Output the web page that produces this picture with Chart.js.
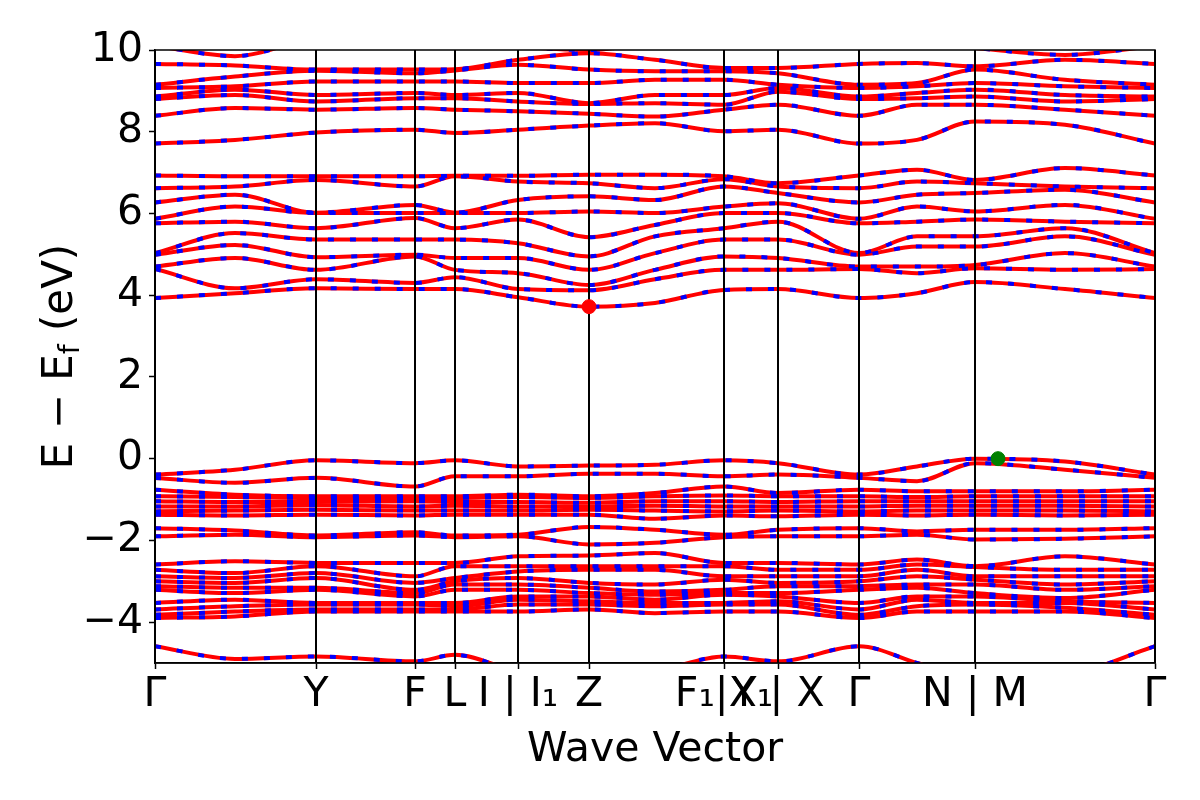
<!DOCTYPE html>
<html>
<head>
<meta charset="utf-8">
<script src="https://cdn.jsdelivr.net/npm/chart.js@4.4.0/dist/chart.umd.min.js"></script>
<style>
  html, body { margin: 0; padding: 0; background: #fff; }
</style>
</head>
<body>
<canvas id="bands" width="1200" height="800"></canvas>
<script>
// k-path sample positions (path length units, 0..1000)
var kPts = [0, 80, 161, 260, 300, 363, 434, 500, 569, 623, 704, 762, 820, 910, 1000];
var tickPos = [0, 161, 260, 300, 363, 434, 569, 623, 704, 820, 1000];
var tickLabels = ['Γ', 'Y', 'F', 'L', 'I | I₁', 'Z', 'F₁|X₁', 'Y | X', 'Γ', 'N | M', 'Γ'];
var yTicks = [-4, -2, 0, 2, 4, 6, 8, 10];

// band energies (eV) at kPts
var condLow = [
  [3.93, 4.05, 4.17, 4.15, 4.15, 3.95, 3.72, 3.81, 4.13, 4.15, 3.93, 4.05, 4.32, 4.15, 3.93],
  [4.64, 4.17, 4.39, 4.30, 4.44, 4.15, 4.12, 4.39, 4.62, 4.62, 4.64, 4.54, 4.66, 4.62, 4.64],
  [4.70, 4.91, 4.62, 4.95, 4.62, 4.54, 4.25, 4.62, 4.95, 4.91, 4.70, 4.70, 4.74, 5.03, 4.70],
  [4.99, 5.23, 4.93, 4.99, 4.91, 4.91, 4.62, 5.03, 5.36, 5.36, 4.99, 5.19, 5.19, 5.44, 4.99],
  [5.03, 5.52, 5.36, 5.36, 5.36, 5.27, 4.95, 5.44, 5.64, 5.80, 5.03, 5.44, 5.44, 5.64, 5.03],
  [5.76, 5.80, 5.64, 5.89, 5.64, 5.85, 5.42, 5.72, 6.01, 6.01, 5.76, 5.80, 5.85, 5.80, 5.76],
  [5.87, 6.17, 6.01, 6.01, 6.01, 6.01, 6.05, 6.01, 6.17, 6.25, 5.87, 6.17, 6.05, 6.21, 5.87],
  [6.27, 6.46, 6.02, 6.21, 6.02, 6.33, 6.42, 6.33, 6.66, 6.50, 6.27, 6.46, 6.50, 6.58, 6.27],
  [6.62, 6.66, 6.82, 6.66, 6.91, 6.78, 6.74, 6.62, 6.84, 6.66, 6.62, 6.78, 6.74, 6.66, 6.62],
  [6.93, 6.91, 6.91, 6.91, 6.92, 6.92, 6.95, 6.95, 6.91, 6.74, 6.93, 7.07, 6.82, 7.11, 6.93]
];
var condHigh = [
  [7.71, 7.80, 7.98, 8.05, 7.97, 8.05, 8.15, 8.21, 8.01, 8.05, 7.71, 7.80, 8.25, 8.17, 7.71],
  [8.39, 8.58, 8.54, 8.58, 8.54, 8.50, 8.44, 8.37, 8.54, 8.66, 8.39, 8.66, 8.66, 8.54, 8.39],
  [8.80, 8.90, 8.74, 8.82, 8.82, 8.74, 8.68, 8.70, 8.66, 8.98, 8.80, 8.82, 8.86, 8.74, 8.80],
  [8.86, 9.03, 8.90, 8.95, 8.90, 8.95, 8.70, 8.90, 8.90, 9.07, 8.86, 8.95, 9.03, 8.90, 8.86],
  [9.07, 9.11, 9.23, 9.23, 9.23, 9.19, 9.19, 9.27, 9.27, 9.15, 9.07, 9.11, 9.19, 9.11, 9.07],
  [9.15, 9.35, 9.49, 9.43, 9.50, 9.64, 9.52, 9.48, 9.48, 9.43, 9.15, 9.19, 9.52, 9.27, 9.15],
  [9.66, 9.62, 9.52, 9.52, 9.53, 9.76, 9.92, 9.76, 9.56, 9.56, 9.66, 9.68, 9.60, 9.76, 9.66],
  [10.10, 9.85, 10.30, 10.40, 10.35, 10.10, 10.00, 10.20, 10.40, 10.40, 10.10, 10.20, 10.05, 9.88, 10.10]
];
var valTop = [
  [-0.39, -0.27, -0.04, -0.11, -0.04, -0.19, -0.17, -0.15, -0.04, -0.11, -0.39, -0.19, 0.00, -0.07, -0.39],
  [-0.47, -0.59, -0.47, -0.68, -0.43, -0.43, -0.37, -0.37, -0.43, -0.39, -0.47, -0.55, -0.11, -0.27, -0.47],
  [-0.76, -0.88, -0.92, -0.92, -0.92, -0.88, -0.92, -0.84, -0.68, -0.84, -0.76, -0.80, -0.80, -0.80, -0.76],
  [-0.92, -0.94, -0.96, -0.96, -0.96, -0.94, -0.96, -0.92, -0.90, -0.92, -0.92, -0.94, -0.92, -0.92, -0.92],
  [-1.04, -1.06, -1.06, -1.04, -1.06, -1.06, -1.08, -1.04, -1.04, -1.06, -1.04, -1.04, -1.04, -1.04, -1.04],
  [-1.17, -1.17, -1.14, -1.17, -1.15, -1.17, -1.17, -1.15, -1.17, -1.17, -1.17, -1.15, -1.15, -1.15, -1.17],
  [-1.29, -1.27, -1.25, -1.27, -1.27, -1.27, -1.25, -1.27, -1.29, -1.27, -1.29, -1.27, -1.27, -1.27, -1.29],
  [-1.37, -1.39, -1.37, -1.39, -1.37, -1.37, -1.37, -1.47, -1.39, -1.41, -1.37, -1.39, -1.37, -1.39, -1.37]
];
var valMid = [
  [-1.70, -1.76, -1.88, -1.80, -1.88, -1.86, -1.67, -1.74, -1.86, -1.74, -1.70, -1.78, -1.74, -1.74, -1.70],
  [-1.90, -1.86, -1.92, -1.88, -1.92, -1.90, -2.10, -2.06, -1.92, -1.90, -1.90, -1.86, -1.98, -1.96, -1.90]
];
var valLow = [
  [-2.59, -2.51, -2.55, -2.55, -2.55, -2.39, -2.37, -2.31, -2.55, -2.55, -2.59, -2.47, -2.63, -2.39, -2.59],
  [-2.72, -2.80, -2.63, -2.88, -2.63, -2.63, -2.63, -2.63, -2.63, -2.72, -2.72, -2.59, -2.65, -2.72, -2.72],
  [-2.88, -2.92, -2.80, -3.04, -2.92, -2.76, -2.72, -2.72, -2.88, -2.88, -2.88, -2.72, -2.88, -2.88, -2.88],
  [-3.00, -3.04, -2.92, -3.21, -3.00, -2.92, -3.04, -3.08, -2.96, -3.04, -3.00, -2.88, -2.96, -3.08, -3.00],
  [-3.12, -3.16, -3.16, -3.29, -3.08, -3.08, -3.16, -3.25, -3.21, -3.12, -3.12, -3.08, -3.08, -3.21, -3.12],
  [-3.21, -3.29, -3.21, -3.37, -3.21, -3.21, -3.29, -3.33, -3.29, -3.29, -3.21, -3.16, -3.29, -3.41, -3.21],
  [-3.53, -3.45, -3.53, -3.53, -3.53, -3.37, -3.37, -3.45, -3.33, -3.37, -3.53, -3.37, -3.37, -3.49, -3.53],
  [-3.69, -3.61, -3.57, -3.57, -3.61, -3.45, -3.49, -3.53, -3.53, -3.49, -3.69, -3.45, -3.53, -3.53, -3.69],
  [-3.82, -3.74, -3.69, -3.69, -3.69, -3.57, -3.57, -3.61, -3.57, -3.57, -3.82, -3.61, -3.57, -3.65, -3.82],
  [-3.90, -3.86, -3.74, -3.74, -3.74, -3.74, -3.69, -3.78, -3.74, -3.74, -3.90, -3.74, -3.74, -3.74, -3.90]
];
var valDeep = [
  [-4.59, -4.90, -4.84, -4.96, -4.80, -5.20, -5.30, -5.20, -4.84, -4.96, -4.59, -5.00, -5.40, -5.30, -4.59]
];
var cbm = [434, 3.72];   // conduction band minimum (red dot)
var vbm = [843, 0.00];   // valence band maximum (green dot)

var FONT = 'DejaVu Sans';
var allBands = condLow.concat(condHigh, valTop, valMid, valLow, valDeep);

var datasets = [];
allBands.forEach(function (band) {
  var mk = function () { return band.map(function (e, i) { return { x: kPts[i], y: e }; }); };
  datasets.push({ data: mk(), borderColor: '#0000ff', borderWidth: 4, borderDash: [6, 16],
    pointRadius: 0, cubicInterpolationMode: 'monotone', order: 0 });
  datasets.push({ data: mk(), borderColor: '#ff0000', borderWidth: 4,
    pointRadius: 0, cubicInterpolationMode: 'monotone', order: 1 });
});
datasets.push({ type: 'scatter', data: [{ x: cbm[0], y: cbm[1] }], pointRadius: 7,
  backgroundColor: '#ff0000', borderColor: '#ff0000', order: -1 });
datasets.push({ type: 'scatter', data: [{ x: vbm[0], y: vbm[1] }], pointRadius: 7,
  backgroundColor: '#008000', borderColor: '#008000', order: -1 });

// vertical k-point lines + frame, drawn after the last band, below the markers
var frame = {
  id: 'frame',
  afterDatasetDraw: function (chart, args) {
    if (args.index !== 0) return;
    var a = chart.chartArea, ctx = chart.ctx, xs = chart.scales.x;
    ctx.save();
    ctx.strokeStyle = '#000';
    ctx.lineWidth = 2;
    tickPos.forEach(function (v) {
      var px = xs.getPixelForValue(v);
      ctx.beginPath();
      ctx.moveTo(px, a.top);
      ctx.lineTo(px, a.bottom);
      ctx.stroke();
    });
    ctx.lineWidth = 1.5;
    ctx.strokeRect(a.left, a.top, a.right - a.left, a.bottom - a.top);
    ctx.restore();
  },
  afterDraw: function (chart) {
    var ctx = chart.ctx, a = chart.chartArea;
    ctx.save();
    ctx.fillStyle = '#000';
    ctx.font = '41px "' + FONT + '"';
    ctx.textAlign = 'center';
    ctx.textBaseline = 'alphabetic';
    ctx.fillText('Wave Vector', (a.left + a.right) / 2, 761);

    // y title with subscript f
    ctx.translate(72, (a.top + a.bottom) / 2);
    ctx.rotate(-Math.PI / 2);
    ctx.textAlign = 'left';
    var p1 = 'E − E', p2 = 'f', p3 = ' (eV)';
    ctx.font = '42px "' + FONT + '"';
    var w1 = ctx.measureText(p1).width, w3 = ctx.measureText(p3).width;
    ctx.font = '28px "' + FONT + '"';
    var w2 = ctx.measureText(p2).width;
    var x0 = -(w1 + w2 + w3) / 2;
    ctx.font = '42px "' + FONT + '"';
    ctx.fillText(p1, x0, 0);
    ctx.font = '28px "' + FONT + '"';
    ctx.fillText(p2, x0 + w1, 7);
    ctx.font = '42px "' + FONT + '"';
    ctx.fillText(p3, x0 + w1 + w2, 0);
    ctx.restore();
  }
};

new Chart(document.getElementById('bands'), {
  type: 'line',
  data: { datasets: datasets },
  options: {
    responsive: false,
    animation: false,
    devicePixelRatio: 1,
    layout: { padding: { top: 50, right: 45, left: 0, bottom: 0 } },
    plugins: { legend: { display: false }, tooltip: { enabled: false } },
    scales: {
      x: {
        type: 'linear', min: 0, max: 1000,
        afterBuildTicks: function (s) { s.ticks = tickPos.map(function (v) { return { value: v }; }); },
        afterFit: function (s) { s.height = 137; s.paddingLeft = 0; s.paddingRight = 0; },
        grid: { drawOnChartArea: false, drawTicks: true, tickLength: 6, tickWidth: 1.5, tickColor: '#000' },
        border: { display: true, color: '#000', width: 1.5 },
        ticks: {
          autoSkip: false, maxRotation: 0, minRotation: 0, padding: 2, color: '#000',
          font: { family: FONT, size: 41 },
          callback: function (v, i) { return tickLabels[i]; }
        }
      },
      y: {
        min: -5, max: 10,
        afterBuildTicks: function (s) { s.ticks = yTicks.map(function (v) { return { value: v }; }); },
        afterFit: function (s) { s.width = 155; s.paddingTop = 0; s.paddingBottom = 0; },
        grid: { drawOnChartArea: false, drawTicks: true, tickLength: 6, tickWidth: 1.5, tickColor: '#000' },
        border: { display: true, color: '#000', width: 1.5 },
        ticks: {
          padding: 6, color: '#000', font: { family: FONT, size: 41 },
          callback: function (v) { return v < 0 ? '−' + Math.abs(v) : String(v); }
        }
      }
    }
  },
  plugins: [frame]
});
</script>
</body>
</html>
